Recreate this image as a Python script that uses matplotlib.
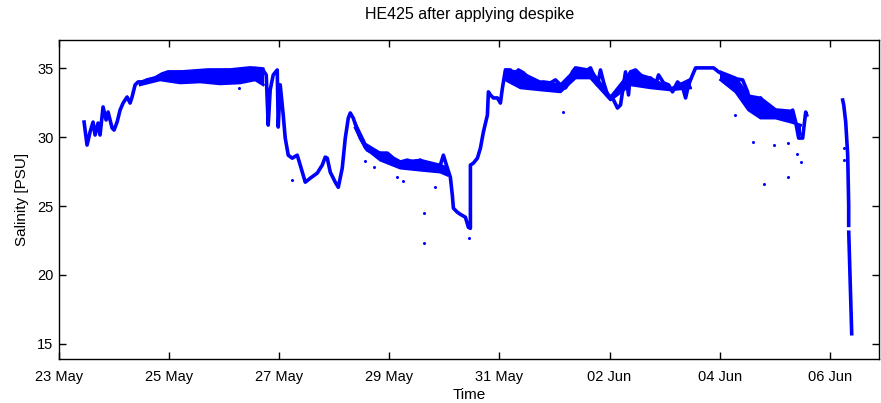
import numpy as np
import pandas as pd
import matplotlib
matplotlib.use("Agg")
import matplotlib.pyplot as plt
import matplotlib.dates as mdates

START = "2014-05-23"

# main trace: days since 23 May 00:00, salinity [PSU] (nan = data gap)
trace_days = [0.455, 0.509, 0.564, 0.618, 0.655, 0.709, 0.745, 0.800, 0.855, 0.891,
              0.964, 1.000, 1.055, 1.109, 1.164, 1.236, 1.291, 1.327, 1.382, 1.436,
              1.527, 1.600, 1.745, 1.873, 1.982, 2.236, 2.473, 2.709, 3.109, 3.473,
              3.691, 3.764, 3.800, 3.836, 3.891, 3.964, 3.982, 4.018, 4.073, 4.109,
              4.164, 4.236, 4.327, 4.382, 4.473, 4.564, 4.691, 4.782, 4.836, 4.873,
              4.927, 5.018, 5.073, 5.145, 5.200, 5.255, 5.291, 5.345, 5.418, 5.473,
              5.600, 5.709, 5.964, 6.073, 6.200, 6.327, 6.436, 6.564, 6.691, 6.800,
              6.927, 6.982, 7.055, 7.109, 7.145, 7.164, 7.236, 7.291, 7.382, 7.436,
              7.473, 7.473, 7.527, 7.600, 7.655, 7.709, 7.782, 7.800, 7.836, 7.891,
              7.964, 8.018, 8.055, 8.109, 8.200, 8.255, 8.345, 8.436, 8.564, 8.691,
              8.800, 8.927, 9.018, 9.109, 9.200, 9.255, 9.327, 9.382, 9.600, 9.655,
              9.709, 9.782, 9.836, 9.891, 9.964, 10.055, 10.145, 10.200, 10.255, 10.291,
              10.345, 10.382, 10.473, 10.564, 10.655, 10.745, 10.836, 10.891, 10.982, 11.073,
              11.145, 11.236, 11.327, 11.382, 11.436, 11.509, 11.564, 11.891, 11.982, 12.073,
              12.200, 12.418, 12.509, 12.564, 12.655, 12.745, 12.800, 12.891, 12.964, 13.236,
              13.327, 13.382, 13.436, 13.509, 13.564, 13.582, 13.9,
              14.236, 14.255, 14.291, 14.327, 14.345, 14.345, 14.346, 14.346, 14.40]
trace_sal = [31.09, 29.42, 30.37, 31.09, 30.15, 31.02, 30.15, 32.19, 31.24, 31.82,
             30.66, 30.51, 31.09, 31.96, 32.47, 32.91, 32.47, 32.91, 33.79, 34.00,
             34.00, 34.15, 34.29, 34.58, 34.73, 34.73, 34.80, 34.87, 34.87, 35.02,
             34.95, 34.51, 30.87, 33.42, 34.51, 34.87, 30.73, 33.79, 31.60, 29.93,
             28.69, 28.47, 28.69, 27.97, 26.73, 27.02, 27.39, 27.97, 28.55, 28.47,
             27.46, 26.73, 26.36, 27.75, 29.93, 31.38, 31.75, 31.38, 30.51, 29.93,
             29.06, 28.84, 28.84, 28.47, 28.19, 28.33, 28.19, 28.33, 27.97, 27.82,
             27.97, 28.69, 27.75, 27.09, 25.78, 24.84, 24.55, 24.40, 24.19, 23.46,
             23.38, 27.97, 28.11, 28.47, 29.20, 30.37, 31.60, 33.28, 33.06, 32.84,
             32.84, 32.47, 33.57, 34.87, 34.87, 34.51, 34.87, 34.66, 34.15, 33.93,
             34.00, 33.93, 34.15, 33.79, 33.57, 33.93, 34.73, 35.02, 34.87, 35.02,
             34.51, 33.79, 34.87, 34.00, 33.06, 32.84, 32.11, 32.33, 33.79, 34.73,
             33.06, 34.73, 34.87, 34.51, 34.00, 34.29, 33.79, 34.51, 33.93, 33.79,
             33.28, 34.00, 33.64, 32.84, 33.79, 34.51, 35.02, 35.02, 34.73, 34.51,
             34.29, 34.15, 33.28, 32.33, 32.11, 32.84, 32.18, 32.33, 31.82, 31.60,
             31.96, 31.09, 29.93, 29.93, 31.82, 31.60, np.nan,
             32.69, 32.33, 31.09, 28.69, 25.05, 23.60, np.nan, 23.10, 15.74]

# noisy band around the trace: days, upper edge, lower edge (nan separates pieces)
band_days = [1.473, 1.836, 2.200, 2.564, 2.927, 3.291, 3.564, 3.709, np.nan,
             5.382, 5.564, 5.836, 6.200, 6.564, 6.927, 7.055, np.nan,
             8.109, 8.382, 8.745, 9.109, 9.382, 9.655, 10.018, 10.382, 10.745, 11.109, 11.473, np.nan,
             12.018, 12.291, 12.527, 12.745, 13.018, 13.291, 13.473]
band_top = [34.00, 34.40, 34.73, 34.75, 34.85, 34.87, 35.00, 34.95, np.nan,
            31.00, 29.50, 28.84, 28.20, 28.33, 27.97, 27.75, np.nan,
            34.87, 34.70, 34.00, 33.79, 34.90, 34.90, 32.90, 34.73, 34.29, 33.50, 34.20, np.nan,
            34.73, 34.30, 33.00, 32.84, 32.00, 31.90, 30.20]
band_low = [33.79, 34.15, 33.93, 34.00, 33.86, 33.93, 34.15, 33.79, np.nan,
            30.66, 29.20, 28.33, 27.75, 27.60, 27.46, 27.24, np.nan,
            34.15, 33.57, 33.42, 33.28, 34.29, 34.29, 32.69, 33.79, 33.57, 33.42, 33.57, np.nan,
            34.15, 33.28, 31.96, 31.38, 31.38, 31.09, 30.87]

# isolated points left after despike
spike_days = [3.273, 4.236, 5.564, 5.727, 6.145, 6.255, 6.636, 6.636, 6.836, 7.455,
              9.164, 12.273, 12.600, 12.800, 12.982, 13.236, 13.236, 13.400, 13.473,
              14.255, 14.255]
spike_sal = [33.57, 26.87, 28.26, 27.82, 27.09, 26.80, 24.48, 22.30, 26.36, 22.66,
             31.82, 31.60, 29.64, 26.58, 29.42, 27.09, 29.57, 28.77, 28.19,
             28.33, 29.20]

tick_days = [0, 2, 4, 6, 8, 10, 12, 14]
yticks = [15, 20, 25, 30, 35]

T0 = mdates.date2num(pd.Timestamp(START).to_pydatetime())


def to_num(days):
    # matplotlib date numbers are in days, so the offset adds directly
    return T0 + np.array(days, dtype=float)


plt.rcParams["font.family"] = ["Liberation Sans", "DejaVu Sans"]
plt.rcParams["font.size"] = 10.5

fig = plt.figure(figsize=(8.81, 4.03), dpi=100)
ax = fig.add_axes([0.067, 0.109, 0.931, 0.792])

blue = "#0000ff"

# fill each piece of the band on its own
bd = np.array(band_days)
bt = np.array(band_top)
bl = np.array(band_low)
cuts = np.where(np.isnan(bd))[0]
for seg in np.split(np.arange(len(bd)), cuts):
    seg = seg[~np.isnan(bd[seg])]
    x = to_num(bd[seg])
    xs = np.concatenate([x, x[::-1]])
    ys = np.concatenate([bt[seg], bl[seg][::-1]])
    ax.fill(xs, ys, color=blue, lw=0, antialiased=False)
ax.plot(to_num(band_days), band_low, color=blue, lw=2.0)
ax.plot(to_num(band_days), band_top, color=blue, lw=2.0)

ax.plot(to_num(trace_days), trace_sal, color=blue, lw=2.6, solid_joinstyle="round")
ax.plot(to_num(spike_days), spike_sal, "o", color=blue, ms=2.2, mew=0)

ax.set_xlim(T0, T0 + 14.9)
ax.set_ylim(13.9, 37.05)
ax.set_yticks(yticks)
ax.set_xticks(to_num(tick_days))
ax.xaxis.set_major_formatter(mdates.DateFormatter("%d %b"))

ax.tick_params(direction="in", length=5, width=1, top=True, right=True, labelsize=10.5)
ax.tick_params(axis="x", pad=8)
ax.tick_params(axis="y", pad=4)
for s in ax.spines.values():
    s.set_linewidth(1)

ax.set_title("HE425 after applying despike", fontsize=11.5, pad=15)
ax.set_xlabel("Time", fontsize=11, labelpad=3)
ax.set_ylabel("Salinity [PSU]", fontsize=11, labelpad=6)

fig.savefig("out.png", dpi=100)
